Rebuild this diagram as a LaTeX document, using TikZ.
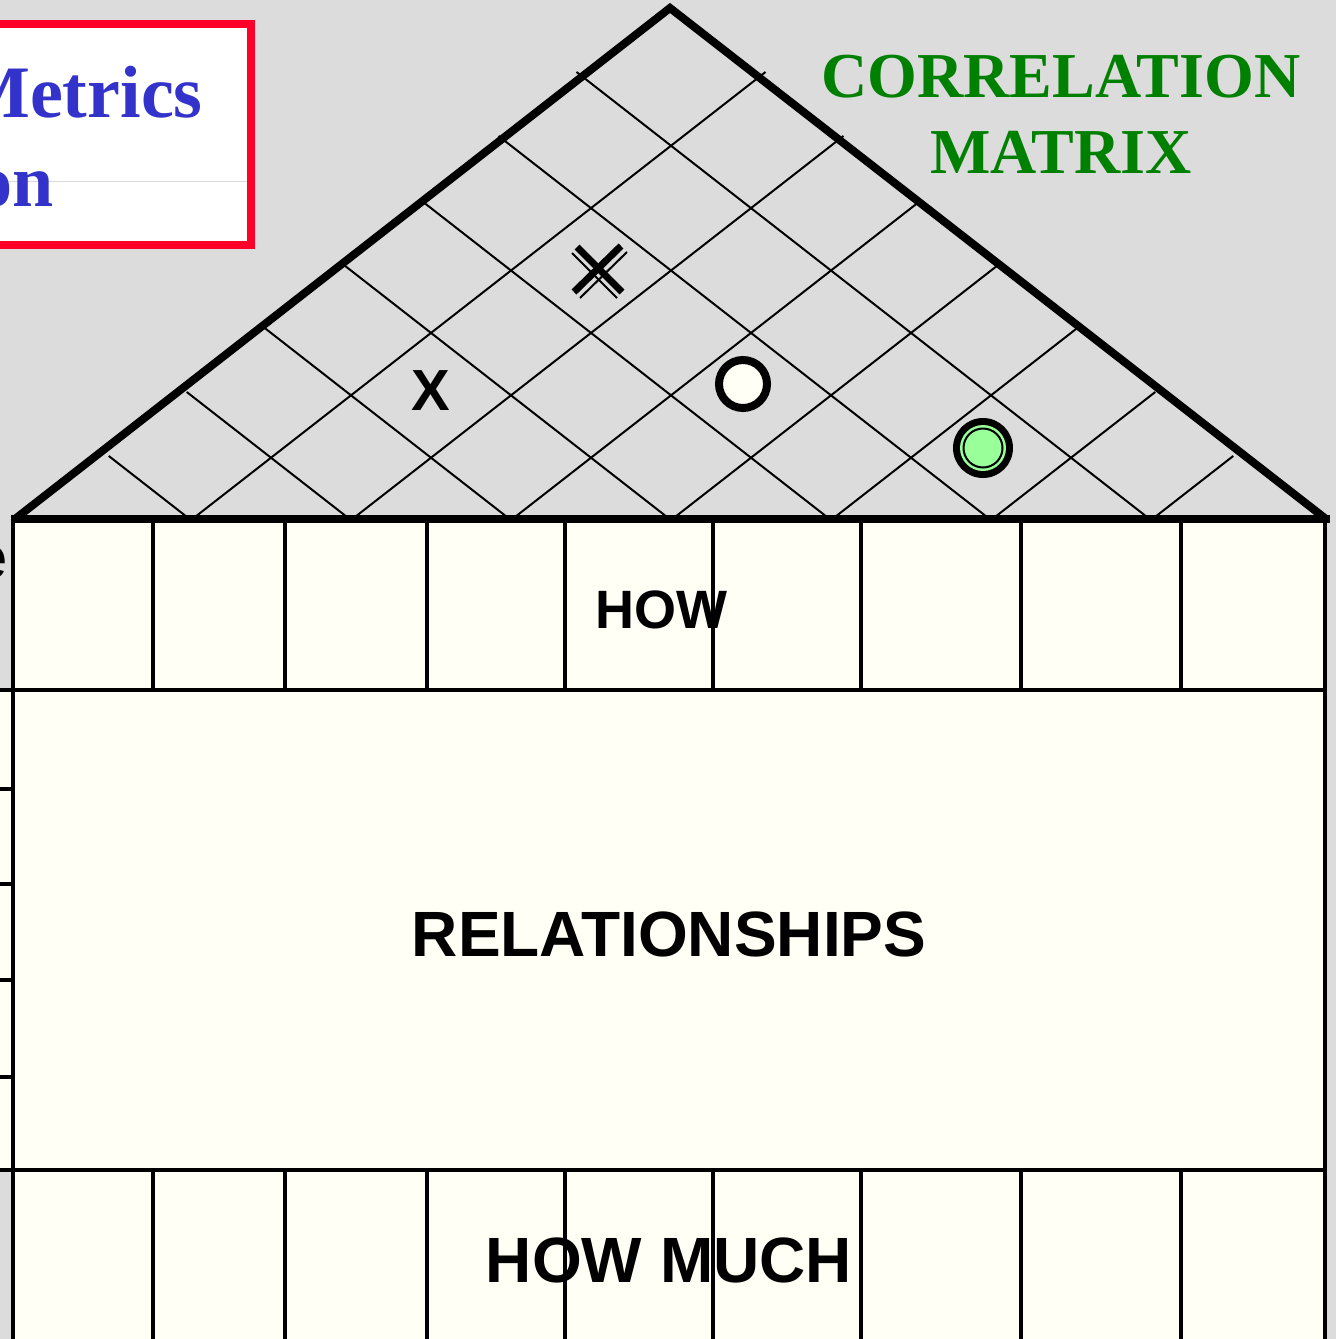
\documentclass[tikz,border=0pt]{standalone}
\usepackage{fontspec}
\setmainfont{Liberation Serif}
\newfontfamily\sansf{Liberation Sans}
\definecolor{bg}{RGB}{220,220,220}
\definecolor{cream}{RGB}{255,255,246}
\definecolor{boxred}{RGB}{255,0,40}
\definecolor{titleblue}{RGB}{51,51,204}
\definecolor{corrgreen}{RGB}{0,128,0}
\definecolor{dotgreen}{RGB}{153,255,153}
\begin{document}
\begin{tikzpicture}[x=0.5pt,y=-0.5pt,
  gridline/.style={line width=1pt},
  cell/.style={line width=1.6pt},
  serifbig/.style={font=\fontsize{37}{40}\selectfont\bfseries, inner sep=0pt},
  corrtitle/.style={text=corrgreen, font=\fontsize{32}{36}\selectfont\bfseries, inner sep=0pt, anchor=base},
  sanslabel/.style={font=\sansf\bfseries\fontsize{32}{36}\selectfont, inner sep=0pt, anchor=base}]
\clip (0,0) rectangle (1336,1339);
\fill[bg] (0,0) rectangle (1336,1339);

% top-left title box (cut off by the picture edge)
\draw[line width=4pt, draw=boxred, fill=white] (-40,24) rectangle (251,245);
\draw[line width=0.5pt, draw=black!15] (0,181) -- (247,181);
\node[serifbig, text=titleblue, anchor=base east] (metrics) at (203,117) {Metrics};
\node[serifbig, text=titleblue, anchor=base east] (on) at (54,206) {on};

% correlation matrix title
\node[corrtitle] (corr) at (1061,97) {CORRELATION};
\node[corrtitle] (matrix) at (1061,173) {MATRIX};

% partial label at left edge
\node[font=\sansf\fontsize{30}{34}\selectfont, text=black, anchor=base east, inner sep=0pt] (e) at (8,578) {e};

% table body
\fill[cream] (13,519) rectangle (1325,690);
\fill[cream] (0,690) rectangle (13,1170);
\fill[cream] (13,690) rectangle (1325,1170);
\fill[cream] (13,1170) rectangle (1325,1345);
\foreach \x in {153,285,427,565,713,861,1021,1181} {
  \draw[cell] (\x,519) -- (\x,690);
  \draw[cell] (\x,1170) -- (\x,1345);
}
\draw[cell] (13,519) -- (13,1345);
\draw[cell] (1325,519) -- (1325,1345);
\draw[cell] (0,690) -- (1325,690);
\draw[cell] (0,1170) -- (1325,1170);
\foreach \y in {789,884,980,1077} {\draw[cell] (0,\y) -- (13,\y);}

% roof grid
\foreach \k in {0,...,6} {
  \pgfmathsetmacro\ys{456-64*\k}
  \pgfmathsetmacro\bx{187+160*\k}
  \pgfmathsetmacro\xs{\bx-(517-\ys)/0.78}
  \draw[gridline] (\xs,\ys) -- (\bx,517);
  \pgfmathsetmacro\ub{1155-160*\k}
  \pgfmathsetmacro\xe{\ub+(517-\ys)/0.78}
  \draw[gridline] (\ub,517) -- (\xe,\ys);
}
% roof outline
\draw[line width=4pt, line join=miter] (15,519) -- (670,8) -- (1326,519);
\draw[line width=4pt] (11,519) -- (1330,519);

% symbols in the roof
\node[sanslabel, font=\sansf\bfseries\fontsize{29}{32}\selectfont] (xmark) at (431,410) {X};
\draw[line width=3.5pt] (577,247) -- (622,292);
\draw[line width=3.5pt] (621,246) -- (574,292);
\draw[line width=1pt] (572,253) -- (617,298);
\draw[line width=1pt] (627,252) -- (580,298);
\draw[line width=4pt, fill=cream] (743,384) circle[radius=24];
\fill[black] (983,448) circle[radius=30];
\fill[dotgreen] (983,448) circle[radius=23];
\draw[line width=1pt, fill=dotgreen] (983,448) circle[radius=19.5];

% labels
\node[sanslabel, font=\sansf\bfseries\fontsize{27}{30}\selectfont] (how) at (661,628) {HOW};
\node[sanslabel] (rel) at (669,956) {RELATIONSHIPS};
\node[sanslabel, font=\sansf\bfseries\fontsize{32}{36}\selectfont] (howmuch) at (669,1282) {HOW MUCH};
\end{tikzpicture}
\end{document}
